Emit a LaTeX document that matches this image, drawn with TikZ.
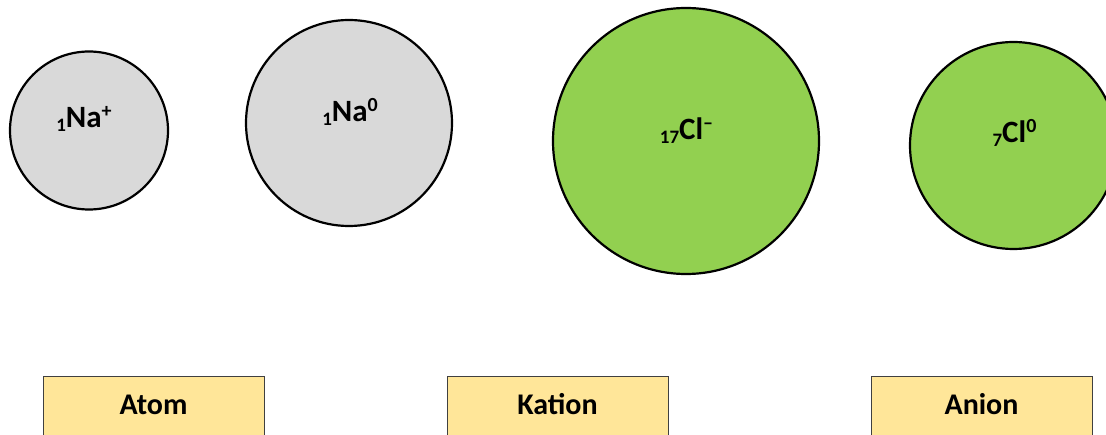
\documentclass[tikz,border=0pt]{standalone}
\usepackage{fontspec}
\setmainfont{Carlito}
\definecolor{nagray}{HTML}{D9D9D9}
\definecolor{clgreen}{HTML}{92D050}
\definecolor{labelgold}{HTML}{FFE699}
\newcommand{\elem}[3]{{\fontsize{19}{19}\selectfont\raisebox{-4pt}{#1}}#2\raisebox{10pt}{\fontsize{20}{20}\selectfont #3}}
\tikzset{
  particle/.style={circle, draw=black, line width=2.2pt, inner sep=0pt},
  natom/.style={particle, fill=nagray},
  clatom/.style={particle, fill=clgreen},
  sym/.style={font=\bfseries\fontsize{31}{31}\selectfont, anchor=base, inner sep=0pt},
  labelbox/.style={draw=black!75, line width=1pt, fill=labelgold, minimum width=221pt, minimum height=80pt, anchor=north west, inner sep=0pt},
  labeltext/.style={font=\bfseries\fontsize{30}{30}\selectfont, anchor=base, inner sep=0pt}
}
\begin{document}
\begin{tikzpicture}[x=1pt,y=-1pt]
\useasboundingbox (0,0) rectangle (1106,435);
\begin{scope}
\clip (0,0) rectangle (1106,435);
% particles
\node[natom, minimum size=158pt] (na1) at (89,130.5) {};
\node[natom, minimum size=206pt] (na2) at (349,123) {};
\node[clatom, minimum size=266pt] (cl1) at (686,141) {};
\node[clatom, minimum size=207pt] (cl2) at (1013.5,145.5) {};
% symbols
\node[sym] (na1t) at (84,128) {\elem{1}{Na}{+}};
\node[sym] (na2t) at (350,122) {\elem{1}{Na}{0}};
\node[sym] (cl1t) at (686.5,140) {\elem{17}{Cl}{–}};
\node[sym] (cl2t) at (1014.5,143) {\elem{7}{Cl}{0}};
% labels
\node[labelbox] (atom) at (43,376) {};
\node[labelbox] (kation) at (447,376) {};
\node[labelbox] (anion) at (871,376) {};
\node[labeltext] at (153.5,415) {Atom};
\node[labeltext] at (557.5,415) {Kation};
\node[labeltext] at (981.5,415) {Anion};
\end{scope}
\end{tikzpicture}
\end{document}
